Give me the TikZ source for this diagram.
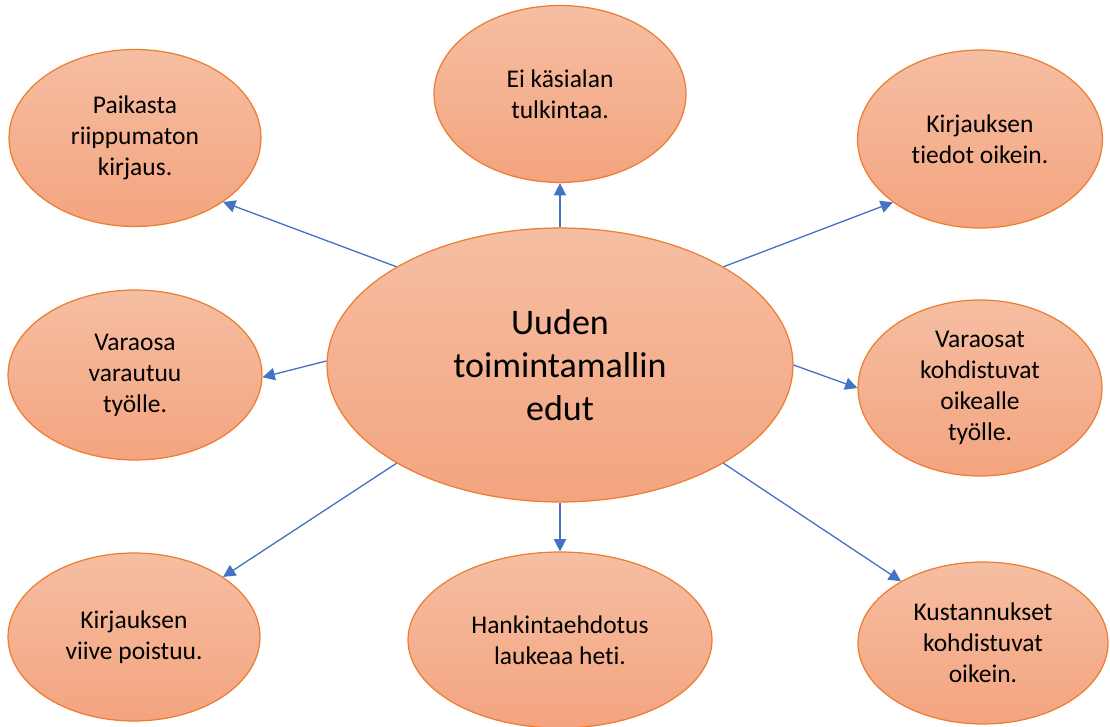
\documentclass[tikz,border=0pt]{standalone}
\usepackage{fontspec}
\setmainfont{Carlito}[Ligatures=NoCommon]
\usepackage{tikz}
\usetikzlibrary{
    arrows.meta,  % arrow tips
    shapes,  % ellipse
}
\definecolor{bubbleline}{HTML}{ED7D31}
\definecolor{bubbletop}{HTML}{F5BEA2}
\definecolor{bubblebot}{HTML}{F4A47F}
\definecolor{linkblue}{HTML}{4472C4}
\tikzset{
    bubble/.style={ellipse, draw=bubbleline, line width=0.7pt,
        top color=bubbletop, bottom color=bubblebot, inner sep=0pt,
        align=center, font=\fontsize{14.5}{17.6}\selectfont},
    link/.style={draw=linkblue, line width=0.75pt,
        -{Triangle[length=7pt,width=7pt]}},
}

\begin{document}
\begin{tikzpicture}[x=0.02cm, y=-0.02cm]
    \useasboundingbox (0, 0) rectangle (1110, 727);

    \node[bubble, minimum width=9.32cm, minimum height=5.48cm,
        font=\fontsize{20.5}{24.4}\selectfont] (c) at (560, 365)
        {Uuden\\toimintamallin\\edut};

    \node[bubble, minimum width=5.04cm, minimum height=3.54cm] (b1) at (135, 138) {Paikasta\\riippumaton\\kirjaus.};
    \node[bubble, minimum width=5.04cm, minimum height=3.54cm] (b2) at (560, 94) {Ei käsialan\\tulkintaa.};
    \node[bubble, minimum width=4.9cm, minimum height=3.56cm] (b3) at (980, 139) {Kirjauksen\\tiedot oikein.};
    \node[bubble, minimum width=5.08cm, minimum height=3.4cm] (b4) at (135, 375) {Varaosa\\varautuu\\työlle.};
    \node[bubble, minimum width=4.88cm, minimum height=3.52cm] (b5) at (980, 388) {Varaosat\\kohdistuvat\\oikealle\\työlle.};
    \node[bubble, minimum width=5.04cm, minimum height=3.36cm] (b6) at (134, 637) {Kirjauksen\\viive poistuu.};
    \node[bubble, minimum width=6.08cm, minimum height=3.52cm] (b7) at (560, 640) {Hankintaehdotus\\laukeaa heti.};
    \node[bubble, minimum width=5cm, minimum height=3.24cm] (b8) at (983, 643) {Kustannukset\\kohdistuvat\\oikein.};

    \draw[link] (c.149) -- (b1.-36);
    \draw[link] (c.90) -- (b2.-90);
    \draw[link] (c.31) -- (b3.-144);
    \draw[link] (c.179.5) -- (b4.-1);
    \draw[link] (c.0.5) -- (b5.180);
    \draw[link] (c.-149.5) -- (b6.34);
    \draw[link] (c.-90) -- (b7.90);
    \draw[link] (c.-31) -- (b8.143);
\end{tikzpicture}
\end{document}
